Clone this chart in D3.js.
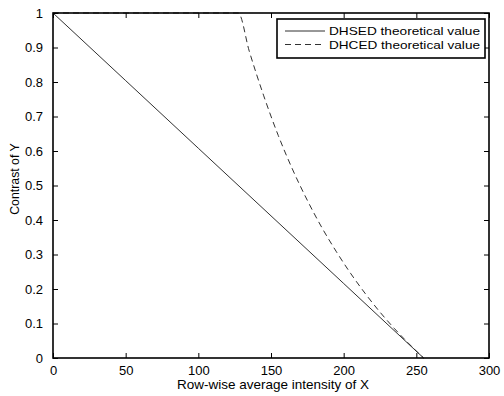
<!DOCTYPE html>
<html>
<head>
<meta charset="utf-8">
<script src="https://cdn.jsdelivr.net/npm/d3@7"></script>
<style>
  html, body { margin: 0; padding: 0; background: #fff; }
  text { font-family: "Liberation Sans", Arial, Helvetica, sans-serif; fill: #000; }
</style>
</head>
<body>
<svg id="chart" width="504" height="396"></svg>
<script>
// ---- data ----
const xTicks = [0, 50, 100, 150, 200, 250, 300];
const yTicks = [0, 0.1, 0.2, 0.3, 0.4, 0.5, 0.6, 0.7, 0.8, 0.9, 1];
const dhsedX = [0, 50, 100, 150, 200, 255];
const dhsedY = [1, 0.804, 0.608, 0.412, 0.216, 0];
const dhcedX = [0, 127.5, 135, 145, 155, 165, 175, 185, 195, 205, 215, 225, 235, 245, 255];
const dhcedY = [1, 1, 0.89, 0.76, 0.645, 0.545, 0.457, 0.378, 0.308, 0.244, 0.186, 0.133, 0.085, 0.041, 0];
const seriesNames = ["DHSED theoretical value", "DHCED theoretical value"];
const xLabel = "Row-wise average intensity of X";
const yLabel = "Contrast of Y";

// ---- layout ----
const W = 504, H = 396;
const m = { left: 53, top: 13, right: 15, bottom: 38 };
const iw = W - m.left - m.right, ih = H - m.top - m.bottom;
const svg = d3.select("#chart");
const g = svg.append("g").attr("transform", `translate(${m.left},${m.top})`);

const x = d3.scaleLinear().domain([0, 300]).range([0, iw]);
const y = d3.scaleLinear().domain([0, 1]).range([ih, 0]);

const line = d3.line().x(d => x(d[0])).y(d => y(d[1]));
const solidData = dhsedX.map((v, i) => [v, dhsedY[i]]);
const dashData = dhcedX.map((v, i) => [v, dhcedY[i]]);

g.append("path").datum(solidData).attr("d", line)
  .attr("fill", "none").attr("stroke", "#1a1a1a").attr("stroke-width", 0.9);
g.append("path").datum(dashData).attr("d", line.curve(d3.curveMonotoneX))
  .attr("fill", "none").attr("stroke", "#1a1a1a").attr("stroke-width", 0.9)
  .attr("stroke-dasharray", "6,4");

// axes (inward ticks, box)
const tl = 5;
const fmt = d => d3.format("~g")(d);
const xb = g.append("g").attr("transform", `translate(0,${ih})`)
  .call(d3.axisBottom(x).tickValues(xTicks).tickSize(-tl).tickPadding(8).tickFormat(fmt));
const xt = g.append("g")
  .call(d3.axisTop(x).tickValues(xTicks).tickSize(-tl).tickFormat(""));
const yl = g.append("g")
  .call(d3.axisLeft(y).tickValues(yTicks).tickSize(-tl).tickPadding(10).tickFormat(fmt));
const yr = g.append("g").attr("transform", `translate(${iw},0)`)
  .call(d3.axisRight(y).tickValues(yTicks).tickSize(-tl).tickFormat(""));
[xb, xt, yl, yr].forEach(a => {
  a.select(".domain").remove();
  a.selectAll(".tick line").attr("stroke", "#000").attr("stroke-width", 1);
});
xb.selectAll(".tick text").attr("font-size", 13).attr("dy", "0.71em");
yl.selectAll(".tick text").attr("font-size", 13);

g.append("rect").attr("x", 0).attr("y", 0).attr("width", iw).attr("height", ih)
  .attr("fill", "none").attr("stroke", "#000").attr("stroke-width", 1.6);

// axis labels
svg.append("text").attr("x", 273).attr("y", 389)
  .attr("text-anchor", "middle").attr("font-size", 13.5).text(xLabel);
svg.append("text").attr("transform", "translate(19,179) rotate(-90)")
  .attr("text-anchor", "middle").attr("font-size", 12.3).text(yLabel);

// legend
const lg = svg.append("g");
lg.append("rect").attr("x", 277).attr("y", 19).attr("width", 208).attr("height", 39)
  .attr("fill", "#fff").attr("stroke", "#000").attr("stroke-width", 1.6);
const rows = [31, 44.5];
seriesNames.forEach((name, i) => {
  lg.append("line").attr("x1", 285).attr("x2", 325).attr("y1", rows[i]).attr("y2", rows[i])
    .attr("stroke", "#1a1a1a").attr("stroke-width", 0.9)
    .attr("stroke-dasharray", i === 1 ? "6,4" : null);
  lg.append("text").attr("x", 329).attr("y", rows[i]).attr("dy", "0.35em")
    .attr("font-size", 11.8).attr("textLength", 151).attr("lengthAdjust", "spacingAndGlyphs")
    .text(name);
});
</script>
</body>
</html>
